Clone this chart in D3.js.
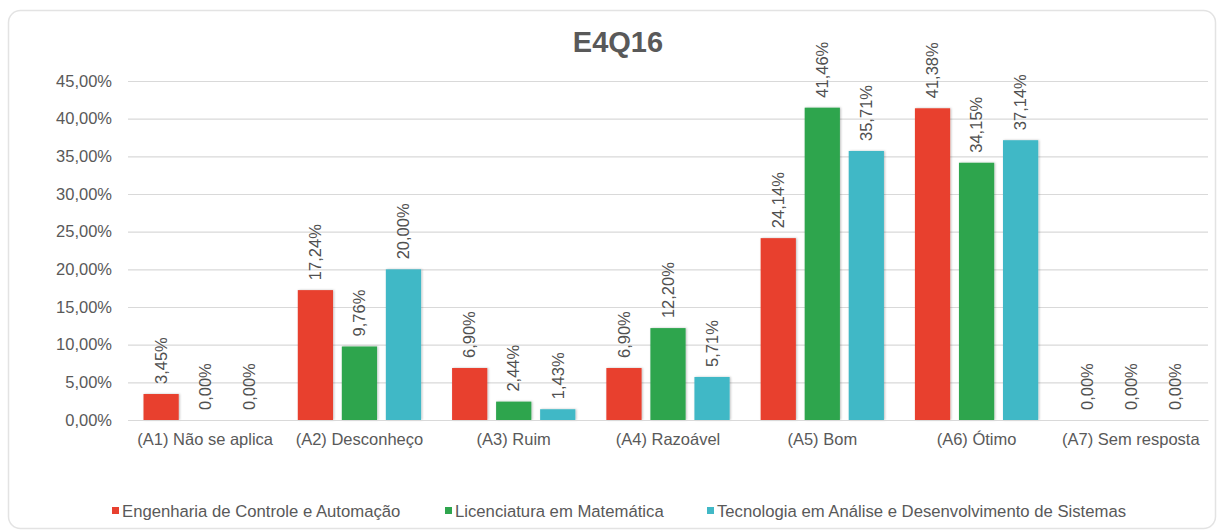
<!DOCTYPE html>
<html><head><meta charset="utf-8">
<script src="https://cdn.jsdelivr.net/npm/d3@7"></script>
<style>body{margin:0;background:#fff;}svg{display:block;font-family:"Liberation Sans",Arial,sans-serif;}</style>
</head><body><svg id="c" width="1218" height="530"></svg>
<script>
const categories = ["(A1) Não se aplica","(A2) Desconheço","(A3) Ruim","(A4) Razoável","(A5) Bom","(A6) Ótimo","(A7) Sem resposta"];
const seriesNames = ["Engenharia de Controle e Automação","Licenciatura em Matemática","Tecnologia em Análise e Desenvolvimento de Sistemas"];
const engenharia = [3.45, 17.24, 6.90, 6.90, 24.14, 41.38, 0.00];
const licenciatura = [0.00, 9.76, 2.44, 12.20, 41.46, 34.15, 0.00];
const tecnologia = [0.00, 20.00, 1.43, 5.71, 35.71, 37.14, 0.00];
const yTicks = [0,5,10,15,20,25,30,35,40,45];
const colors = ["#E8402F","#2FA54E","#41B8C6"];
const title = "E4Q16";

(function(){
const series = [engenharia, licenciatura, tecnologia];
const svg = d3.select("#c");
const fmt = v => v.toFixed(2).replace(".", ",") + "%";
const FS = 16.5;

// frame
svg.append("rect").attr("x",8.5).attr("y",10.5).attr("width",1207).attr("height",518)
  .attr("rx",12).attr("fill","#fff").attr("stroke","#e3e3e3").attr("stroke-width",1.5);

const defs = svg.append("defs");
const f = defs.append("filter").attr("id","sh").attr("x","-20%").attr("y","-20%").attr("width","140%").attr("height","140%");
f.append("feDropShadow").attr("dx",1).attr("dy",0).attr("stdDeviation",1).attr("flood-color","#000").attr("flood-opacity",0.25);

const pl = 128, pr = 1208, pt = 81, pb = 420;
const y = d3.scaleLinear().domain([0,45]).range([pb, pt]);
const x0 = d3.scaleBand().domain(categories).range([pl, pr]).padding(0);
const x1 = d3.scaleBand().domain([0,1,2]).range([15.5, x0.bandwidth()-15.5]).paddingInner(0.2).paddingOuter(0);

// grid
const yAxis = d3.axisLeft(y).tickValues(yTicks).tickSize(-(pr-pl)).tickPadding(16).tickFormat(d => fmt(d));
const ga = svg.append("g").attr("transform",`translate(${pl},0)`).call(yAxis);
ga.select(".domain").remove();
ga.selectAll(".tick line").attr("stroke","#d9d9d9").attr("stroke-width",1.2);
ga.selectAll(".tick text").attr("fill","#595959").attr("font-size",FS).attr("font-family","Liberation Sans, Arial, sans-serif");

// bars
categories.forEach((c, i) => {
  const g = svg.append("g").attr("transform", `translate(${x0(c)},0)`);
  series.forEach((s, j) => {
    const v = s[i];
    if (v > 0) {
      g.append("rect").attr("x", x1(j)).attr("y", y(v)).attr("width", x1.bandwidth())
        .attr("height", y(0) - y(v)).attr("fill", colors[j]).attr("filter","url(#sh)");
    }
    const cx = x1(j) + x1.bandwidth()/2, ty = y(v) - 10;
    g.append("text").attr("transform", `translate(${cx},${ty}) rotate(-90)`)
      .attr("dy","0.35em").attr("text-anchor","start").attr("fill","#505050")
      .attr("font-size",FS).text(fmt(v));
  });
});

// x axis
const xAxis = d3.axisBottom(x0).tickSize(0).tickPadding(13);
const gx = svg.append("g").attr("transform",`translate(0,${pb})`).call(xAxis);
gx.select(".domain").attr("stroke","#d9d9d9").attr("stroke-width",1.2);
gx.selectAll(".tick text").attr("fill","#595959").attr("font-size",FS).attr("font-family","Liberation Sans, Arial, sans-serif");

// title
svg.append("text").attr("x",618).attr("y",52).attr("text-anchor","middle").attr("font-size",29)
  .attr("font-weight","bold").attr("fill","#595959").text(title);

// legend
const legX = [112, 445, 707];
seriesNames.forEach((n, j) => {
  svg.append("rect").attr("x", legX[j]).attr("y", 507).attr("width", 7).attr("height", 7).attr("fill", colors[j]);
  svg.append("text").attr("x", legX[j] + 10).attr("y", 511).attr("dy","0.35em").attr("font-size",16.7)
    .attr("fill","#595959").text(n);
});
})();
</script></body></html>
